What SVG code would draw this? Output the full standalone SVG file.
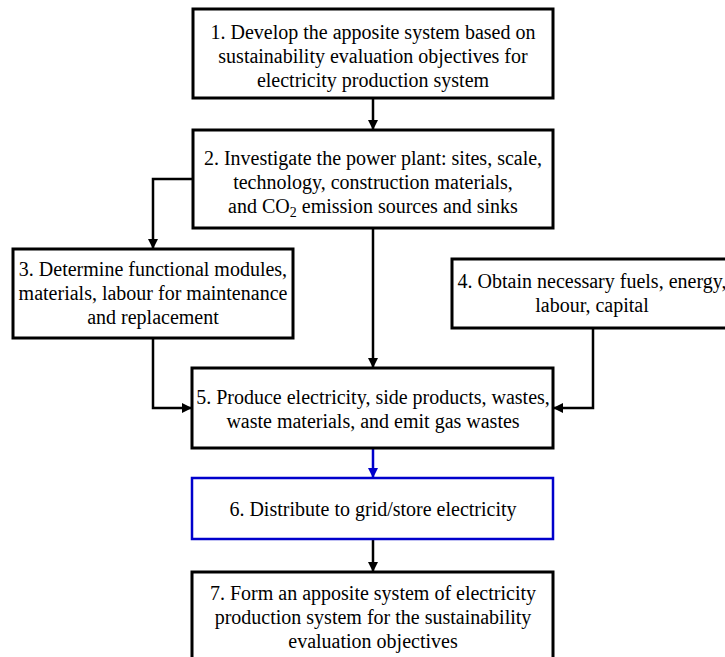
<svg xmlns="http://www.w3.org/2000/svg" width="725" height="657" viewBox="0 0 725 657">
  <defs>
    <marker id="arrow" viewBox="0 0 10 10" refX="10" refY="5" markerWidth="10" markerHeight="10" markerUnits="userSpaceOnUse" orient="auto">
      <path d="M0,0 L10,5 L0,10 Z" fill="#000"/>
    </marker>
    <marker id="arrow-blue" viewBox="0 0 10 10" refX="10" refY="5" markerWidth="10" markerHeight="10" markerUnits="userSpaceOnUse" orient="auto">
      <path d="M0,0 L10,5 L0,10 Z" fill="#0000cc"/>
    </marker>
  </defs>
  <style>
    .box { fill: #fff; stroke: #000; stroke-width: 3; }
    .box-blue { fill: #fff; stroke: #0000cc; stroke-width: 2.5; }
    .label { font-family: "Liberation Serif", "Times New Roman", serif; font-size: 20px; fill: #000; text-anchor: middle; }
    .link { fill: none; stroke: #000; stroke-width: 2.5; marker-end: url(#arrow); }
    .link-blue { fill: none; stroke: #0000cc; stroke-width: 2.5; marker-end: url(#arrow-blue); }
  </style>
  <rect width="725" height="657" fill="#fff"/>

  <g id="connectors">
    <path class="link" d="M373,98 V130"/>
    <path class="link" d="M193,179 H153 V249"/>
    <path class="link" d="M373,228 V368"/>
    <path class="link" d="M153,338 V408 H192"/>
    <path class="link" d="M593,328 V408 H553"/>
    <path class="link-blue" d="M373,448 V478"/>
    <path class="link" d="M373,539 V572"/>
  </g>

  <g id="node1">
    <rect class="box" x="193" y="9" width="360" height="89"/>
    <text class="label" x="373" y="39">1. Develop the apposite system based on</text>
    <text class="label" x="373" y="63">sustainability evaluation objectives for</text>
    <text class="label" x="373" y="87">electricity production system</text>
  </g>

  <g id="node2">
    <rect class="box" x="193" y="130" width="360" height="98"/>
    <text class="label" x="373" y="165">2. Investigate the power plant: sites, scale,</text>
    <text class="label" x="373" y="189">technology, construction materials,</text>
    <text class="label" x="373" y="213">and CO<tspan font-size="14" dy="4">2</tspan><tspan dy="-4"> emission sources and sinks</tspan></text>
  </g>

  <g id="node3">
    <rect class="box" x="13" y="249" width="280" height="89"/>
    <text class="label" x="153" y="276">3. Determine functional modules,</text>
    <text class="label" x="153" y="300">materials, labour for maintenance</text>
    <text class="label" x="153" y="324">and replacement</text>
  </g>

  <g id="node4">
    <rect class="box" x="452" y="259" width="285" height="69"/>
    <text class="label" x="592" y="288">4. Obtain necessary fuels, energy,</text>
    <text class="label" x="592" y="312">labour, capital</text>
  </g>

  <g id="node5">
    <rect class="box" x="192" y="368" width="361" height="80"/>
    <text class="label" x="373" y="404">5. Produce electricity, side products, wastes,</text>
    <text class="label" x="373" y="428">waste materials, and emit gas wastes</text>
  </g>

  <g id="node6">
    <rect class="box-blue" x="192" y="478" width="361" height="61"/>
    <text class="label" x="373" y="516">6. Distribute to grid/store electricity</text>
  </g>

  <g id="node7">
    <rect class="box" x="192" y="572" width="361" height="100"/>
    <text class="label" x="373" y="600">7. Form an apposite system of electricity</text>
    <text class="label" x="373" y="624">production system for the sustainability</text>
    <text class="label" x="373" y="648">evaluation objectives</text>
  </g>
</svg>
